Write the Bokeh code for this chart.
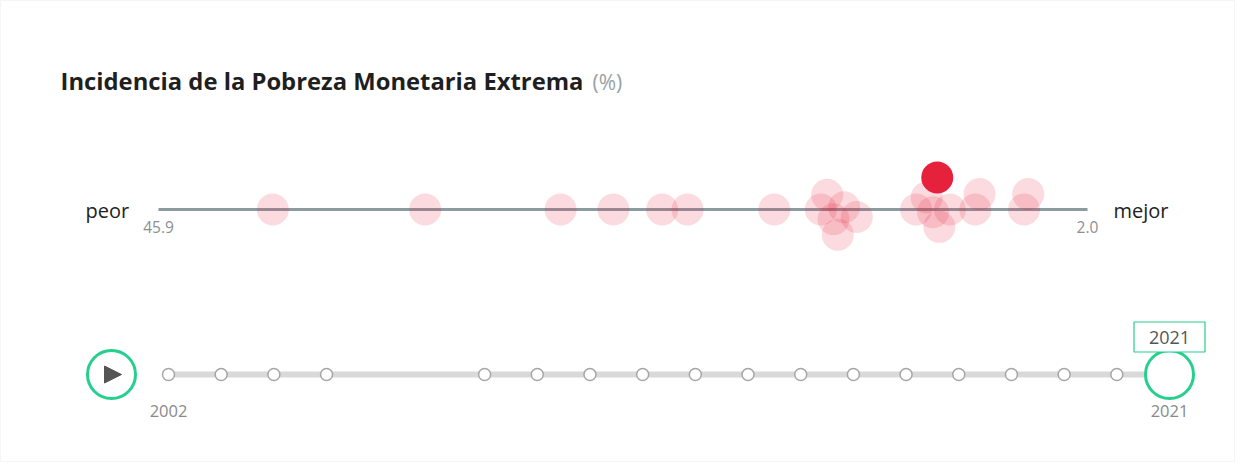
import numpy as np
from bokeh.plotting import figure
from bokeh.models import Range1d
from bokeh.core.properties import value
from bokeh.embed import file_html
from bokeh.resources import INLINE

# ---------------- data ----------------
title_text = "Incidencia de la Pobreza Monetaria Extrema"
unit_text = "(%)"
worst_label = "peor"
best_label = "mejor"
scale_worst = 45.9   # left end of the scale
scale_best = 2.0     # right end of the scale
region_values = [40.5, 33.3, 26.9, 24.4, 22.1, 20.9, 16.8, 14.6, 14.0, 13.8,
                 12.9, 14.3, 13.5, 10.1, 9.6, 8.5, 9.3, 9.0, 7.1, 7.3, 4.8, 5.0]
selected_value = 9.1
years = [2002, 2003, 2004, 2005, 2008, 2009, 2010, 2011, 2012, 2013, 2014,
         2015, 2016, 2017, 2018, 2019, 2020, 2021]
current_year = 2021

# ---------------- layout ----------------
W, H = 1235, 462
AX_L, AX_R = 158, 1087          # px of scale ends
AXIS_Y = 209
TL_Y = 374
YR_L, YR_R = 168, 1169          # px of first / last year
GREEN = "#26cf8e"
RED = "#e5213b"
FONT = value("Open Sans")

ppu = (AX_R - AX_L) / (scale_worst - scale_best)
x_start = scale_worst + AX_L / ppu
x_end = scale_best - (W - AX_R) / ppu
ppy = (YR_R - YR_L) / (years[-1] - years[0])
yr_start = years[0] - YR_L / ppy
yr_end = years[-1] + (W - YR_R) / ppy

p = figure(width=W, height=H, x_range=Range1d(x_start, x_end),
           y_range=Range1d(H, 0), output_backend="svg", toolbar_location=None,
           x_axis_type=None, y_axis_type=None, min_border=0,
           background_fill_color="white", border_fill_color="white",
           outline_line_color="#f5f5f5")
p.grid.visible = False
p.extra_x_ranges = {"year": Range1d(yr_start, yr_end), "px": Range1d(0, W)}


def swarm(px, D):
    order = np.argsort(px)
    placed = []
    out = np.zeros(len(px))
    for i in order:
        iv = []
        for xj, yj in placed:
            dx = abs(px[i] - xj)
            if dx < D:
                h = np.sqrt(D * D - dx * dx)
                iv.append((yj - h, yj + h))
        cands = [0.0] + [a for a, b in iv] + [b for a, b in iv]
        cands.sort(key=lambda c: (abs(c), c))
        for c in cands:
            if all(not (a + 1e-9 < c < b - 1e-9) for a, b in iv):
                out[i] = c
                break
        placed.append((px[i], out[i]))
    return out


vals = np.array(region_values)
px = (scale_worst - vals) * ppu
dy = swarm(px, 16.0)
ys = AXIS_Y + dy

# title
p.text(x=[60], y=[80], text=[title_text], x_range_name="px", text_font=FONT,
       text_font_style="bold", text_font_size="23.8px", text_color="#1f1f1f",
       text_baseline="middle", text_align="left")
p.text(x=[592], y=[81], text=[unit_text], x_range_name="px", text_font=FONT,
       text_font_size="21px", text_color="#9aa0a6", text_baseline="middle",
       text_align="left")

# scale
p.line(x=[scale_worst, scale_best], y=[AXIS_Y, AXIS_Y], line_color="#8c9aa2",
       line_width=3)
p.text(x=[scale_worst, scale_best], y=[AXIS_Y + 17, AXIS_Y + 17],
       text=[f"{scale_worst:.1f}", f"{scale_best:.1f}"], text_font=FONT,
       text_font_size="15.5px", text_color="#8b9096", text_align="center",
       text_baseline="middle")
p.text(x=[85], y=[210], text=[worst_label], x_range_name="px", text_font=FONT,
       text_font_size="20px", text_color="#222222", text_align="left",
       text_baseline="middle")
p.text(x=[1113], y=[210], text=[best_label], x_range_name="px", text_font=FONT,
       text_font_size="20px", text_color="#222222", text_align="left",
       text_baseline="middle")

p.scatter(x=vals, y=ys, size=32, fill_color="#e8203a", fill_alpha=0.16,
          line_color=None)
p.scatter(x=[selected_value], y=[AXIS_Y - 32], size=32, fill_color=RED,
          line_color=None)

# timeline
p.line(x=[years[0], years[-1]], y=[TL_Y, TL_Y], x_range_name="year",
       line_color="#d9d9d9", line_width=6)
p.scatter(x=years[:-1], y=[TL_Y] * (len(years) - 1), x_range_name="year",
          size=12, fill_color="white", line_color="#a6a6a6", line_width=1.5)
p.scatter(x=[current_year], y=[TL_Y], x_range_name="year", size=48,
          fill_color="white", line_color=GREEN, line_width=3)
p.rect(x=[current_year], y=[TL_Y - 37.5], width=71, height=30,
       width_units="screen", height_units="screen", x_range_name="year",
       fill_color="white", line_color=GREEN, line_width=1.2)
p.text(x=[current_year], y=[TL_Y - 37], text=[str(current_year)],
       x_range_name="year", text_font=FONT, text_font_size="18px",
       text_color="#555555", text_align="center", text_baseline="middle")
p.text(x=[years[0], years[-1]], y=[TL_Y + 36, TL_Y + 36],
       text=[str(years[0]), str(years[-1])], x_range_name="year",
       text_font=FONT, text_font_size="16.5px", text_color="#8a8a8a",
       text_align="center", text_baseline="middle")

# play button
p.scatter(x=[111], y=[TL_Y], x_range_name="px", size=48, fill_color="white",
          line_color=GREEN, line_width=3)
p.patch(x=[104, 104, 121], y=[TL_Y - 8.5, TL_Y + 8.5, TL_Y], x_range_name="px",
        fill_color="#555555", line_color="#555555")

open("out.html", "w").write(file_html(p, INLINE))
